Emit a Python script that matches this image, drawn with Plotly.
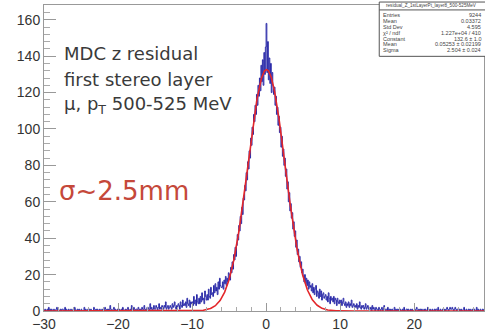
import numpy as np
import plotly.graph_objects as go

# ---------------- data ----------------
bin_lo, bin_hi, bin_w = -30.0, 30.0, 0.1
counts = [
    # -30 .. -16
    0,1,0,0,1,0,2,0,1,0,
    1,0,0,1,0,0,1,2,0,1,
    0,0,1,0,1,1,0,0,2,0,
    1,0,0,1,0,0,1,0,0,1,
    0,2,1,0,0,1,0,1,0,0,
    1,0,0,0,2,0,1,0,0,1,
    0,1,0,1,0,0,0,2,1,0,
    1,0,1,0,0,1,0,0,1,0,
    0,0,2,1,0,1,0,1,0,3,
    1,0,0,1,2,0,1,0,0,1,
    0,1,0,0,1,0,2,1,0,0,
    1,0,1,2,0,0,1,0,3,1,
    0,2,1,0,1,1,0,2,1,0,
    1,0,2,1,0,3,1,0,1,2,
    # -16 .. -6
    2,1,0,4,1,2,0,1,3,1,
    1,3,2,0,2,4,1,2,1,3,
    2,1,3,2,5,1,2,3,1,2,
    3,2,1,4,2,3,5,2,1,3,
    2,4,3,1,5,3,2,6,3,4,
    3,5,2,7,4,3,6,2,5,4,
    5,3,8,4,6,3,9,5,4,7,
    4,8,5,10,6,7,4,11,8,6,
    9,6,12,8,7,13,9,10,8,14,
    10,15,11,13,9,16,12,18,14,13,
    # -6 .. 0
    13,16,12,17,15,19,14,18,16,21,
    20,17,24,21,27,23,31,28,35,30,
    36,42,39,47,44,52,48,57,53,62,
    61,69,66,76,72,82,78,88,84,95,
    91,101,97,108,104,113,108,119,113,124,
    118,128,121,135,126,138,124,142,130,145,
    # 0 .. 6
    158,131,148,127,139,125,136,120,131,124,
    119,123,113,118,108,112,102,107,98,101,
    90,96,85,89,80,84,74,78,67,71,
    60,65,55,59,51,54,45,49,41,44,
    35,39,31,34,27,30,24,27,21,23,
    19,16,20,15,18,14,17,12,16,13,
    # 6 .. 15
    14,11,15,10,13,9,12,14,8,11,
    10,7,12,8,11,6,9,10,7,8,
    9,6,8,5,10,7,4,8,6,7,
    5,8,4,7,6,3,7,5,4,6,
    4,6,3,5,7,4,3,5,2,4,
    3,5,2,4,3,6,2,3,4,2,
    3,2,4,1,3,2,5,2,1,3,
    2,3,1,2,4,1,2,3,1,2,
    1,2,0,3,1,2,1,0,2,1,
    # 15 .. 30
    1,0,2,1,0,1,2,0,1,3,
    0,1,1,0,2,0,1,0,1,0,
    1,0,0,2,0,1,0,1,0,1,
    0,1,0,0,1,0,2,0,0,1,
    1,0,1,0,0,1,0,1,0,0,
    0,0,1,2,0,0,1,0,1,0,
    1,0,0,1,0,1,0,0,2,0,
    0,1,0,0,1,0,0,1,0,1,
    1,0,2,0,0,1,0,0,1,0,
    0,1,0,1,2,1,0,1,2,1,
    1,2,1,0,1,2,1,0,1,1,
    0,1,0,1,0,0,1,2,0,0,
    1,0,0,1,0,1,0,0,1,0,
    0,1,0,0,2,0,1,0,0,1,
    0,0,1,0,1,0,0,2,0,0,
]

# fit parameters (from the stats box)
fit_const, fit_mean, fit_sigma = 132.6, 0.05253, 2.504

stats_title = "residual_Z_1stLayerPt_layer8_500-525MeV"
stats_labels = ["Entries", "Mean", "Std Dev", "χ² / ndf", "Constant", "Mean", "Sigma"]
stats_values = ["9244", "0.03372", "4.595", "1.227e+04 / 410", "132.6 ± 1.0",
                "0.05253 ± 0.02199", "2.504 ± 0.024"]

text_lines = ["MDC z residual", "first stereo layer", "μ, p<sub>T</sub> 500-525 MeV"]
sigma_text = "σ~2.5mm"

x_ticks = [-30, -20, -10, 0, 10, 20]
y_ticks = [0, 20, 40, 60, 80, 100, 120, 140, 160]

# ---------------- build ----------------
nb = len(counts)
edges = bin_lo + bin_w * np.arange(nb + 1)
hx = np.repeat(edges, 2)[1:-1]
hy = np.repeat(np.array(counts, dtype=float), 2)
hx = np.concatenate([[edges[0]], hx, [edges[-1]]])
hy = np.concatenate([[0], hy, [0]])

fx = np.linspace(bin_lo, bin_hi, 1201)
fy = fit_const * np.exp(-0.5 * ((fx - fit_mean) / fit_sigma) ** 2)

W, H = 485, 332
L, R, T, B = 44, 485, 5, 315


def px(xp):
    return (xp - L) / (R - L)


def py(yp):
    return (B - yp) / (B - T)


fig = go.Figure()
fig.add_trace(go.Scatter(x=hx, y=hy, mode="lines",
                         line=dict(color="#2a2aa8", width=1), hoverinfo="skip"))
fig.add_trace(go.Scatter(x=fx, y=fy, mode="lines",
                         line=dict(color="#e3262a", width=1.6), hoverinfo="skip"))

annotations = []
tl_y = [54, 80, 106]
for t, yy in zip(text_lines, tl_y):
    annotations.append(dict(text=t, xref="paper", yref="paper", x=px(62), y=py(yy),
                            xanchor="left", yanchor="middle", showarrow=False,
                            font=dict(family="DejaVu Sans", size=18, color="#3a3a3a")))
annotations.append(dict(text=sigma_text, xref="paper", yref="paper", x=px(57), y=py(193),
                        xanchor="left", yanchor="middle", showarrow=False,
                        font=dict(family="DejaVu Sans", size=26, color="#c5483a")))

# stats box
bx0, bx1, by0, by1 = 380, 485, 2, 57
shapes = [
    dict(type="rect", xref="paper", yref="paper", x0=px(bx0), x1=px(bx1 + 2),
         y0=py(by1), y1=py(by0), line=dict(color="#555", width=1), fillcolor="white"),
    dict(type="line", xref="paper", yref="paper", x0=px(bx0), x1=px(bx1 + 2),
         y0=py(10), y1=py(10), line=dict(color="#555", width=1)),
]
sfont = dict(family="Liberation Sans, Arial", size=5.5, color="#444")
annotations.append(dict(text=stats_title, xref="paper", yref="paper", x=px(432), y=py(6),
                        xanchor="center", yanchor="middle", showarrow=False,
                        font=dict(family="Liberation Sans, Arial", size=4.6, color="#444")))
for i, (lab, val) in enumerate(zip(stats_labels, stats_values)):
    yy = 15 + i * 6.0
    annotations.append(dict(text=lab, xref="paper", yref="paper", x=px(382), y=py(yy),
                            xanchor="left", yanchor="middle", showarrow=False, font=sfont))
    annotations.append(dict(text=val, xref="paper", yref="paper", x=px(484), y=py(yy),
                            xanchor="right", yanchor="middle", showarrow=False, font=sfont))

fig.update_layout(
    width=W, height=H,
    margin=dict(l=L, r=W - R, t=T, b=H - B, pad=0),
    paper_bgcolor="white", plot_bgcolor="white",
    showlegend=False,
    annotations=annotations, shapes=shapes,
    font=dict(family="Liberation Sans, Arial", size=14, color="#333"),
)
fig.update_xaxes(range=[-30, -30 + (R - L) / 7.42], tickvals=x_ticks,
                 showgrid=False, zeroline=False, showline=True, linecolor="#999",
                 linewidth=1, mirror=True, ticks="inside", ticklen=8, tickcolor="#999",
                 minor=dict(dtick=2, ticks="inside", ticklen=4, tickcolor="#aaa"),
                 tickfont=dict(size=14, color="#333"))
fig.update_yaxes(range=[0, (B - T) / 1.844], tickvals=y_ticks,
                 showgrid=False, zeroline=False, showline=True, linecolor="#999",
                 linewidth=1, mirror=True, ticks="inside", ticklen=12, tickcolor="#999",
                 minor=dict(dtick=4, ticks="inside", ticklen=6, tickcolor="#aaa"),
                 tickfont=dict(size=14, color="#333"))

fig.write_html("out.html")
